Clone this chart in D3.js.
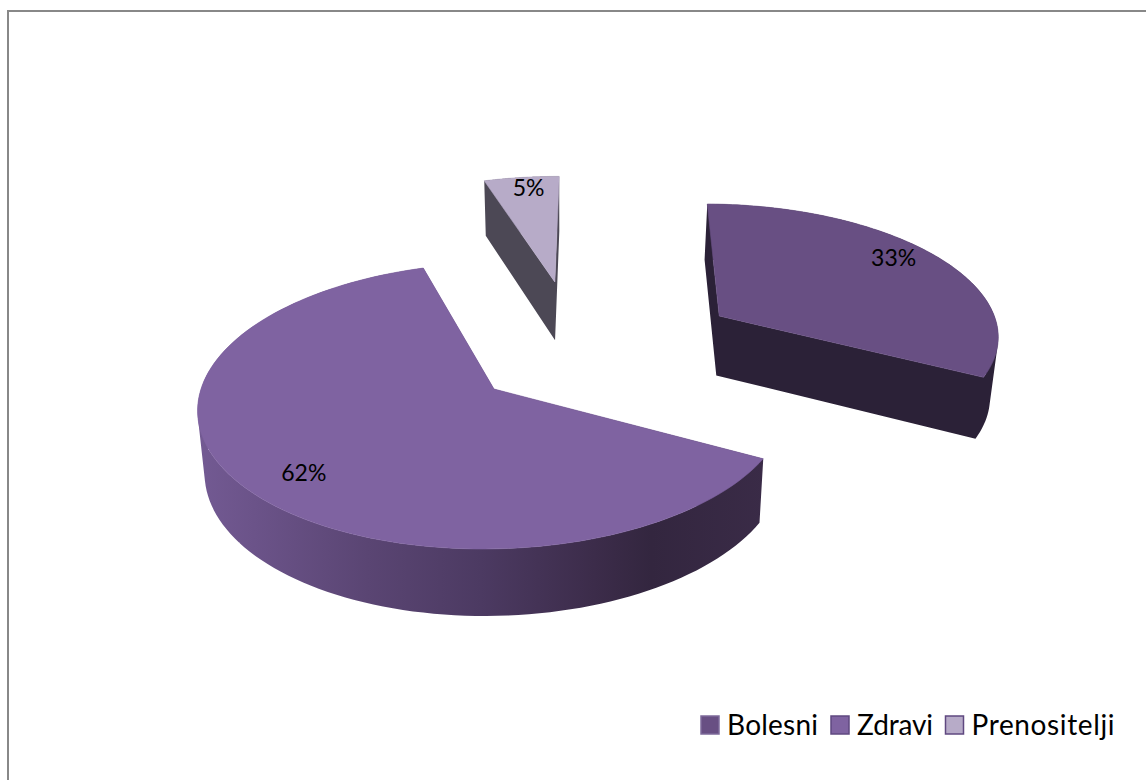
<!DOCTYPE html>
<html><head><meta charset="utf-8">
<script src="https://cdn.jsdelivr.net/npm/d3@7"></script>
<style>html,body{margin:0;padding:0;background:#fff;overflow:hidden}svg{display:block}text{font-family:Lato,"Noto Sans",sans-serif;fill:#000}</style>
</head><body><svg id="c" width="1146" height="780"></svg>
<script>
const categories = ["Bolesni", "Zdravi", "Prenositelji"];
const values = [32.6, 62.4, 5.0];
const topColors = ["#684f83", "#7f63a1", "#b7abc8"];
const wallColors = ["#2b2137", "url(#zdraviWall)", "#4c4855"];
const legendBorders = ["#7d6a9a", "#5f4880", "#5f4880"];
const legendTextWidths = [91, 76, 143];
// exploded offset of every slice on the pie plane, in pie radii
const offsetX = [0.80, 0, 0.200];
const offsetY = [-0.551, 0, -0.8327];
const labelRadius = [0.85, 0.808, 0.885];
const labelShiftDeg = [-4.2, -3.5, 1.0];

const svg = d3.select("#c");
const rot = 0.5 * Math.PI / 180;
const arcs = d3.pie().sort(null).value(d => d).startAngle(rot).endAngle(2 * Math.PI + rot)(values);

// perspective of the pie plane
const P = {cx: 494, cy: 389, a: 293, b: -9.9, d: 141.1, k: 0.118};
function project(x, y) {
  const w = 1 - P.k * y;
  return [P.cx + (P.a * x + P.b * y) / w, P.cy + P.d * y / w];
}
function drop(p) {
  return [p[0] - (p[0] - 565) * 0.019, p[1] + 55 + 0.0326 * (p[1] - 181)];
}
function rim(i, ang, r = 1) {
  return project(offsetX[i] + r * Math.sin(ang), offsetY[i] - r * Math.cos(ang));
}
const line = d3.line();
const defs = svg.append("defs");
const grad = defs.append("linearGradient").attr("id", "zdraviWall")
  .attr("gradientUnits", "userSpaceOnUse").attr("x1", 197).attr("x2", 765).attr("y1", 0).attr("y2", 0);
[[0, "#735a93"], [0.1, "#6b5389"], [0.3, "#5a4573"], [0.5, "#4c3a62"], [0.7, "#3c2c4a"], [0.8, "#33263f"], [1, "#3a2b47"]]
  .forEach(s => grad.append("stop").attr("offset", s[0]).attr("stop-color", s[1]));

svg.append("rect").attr("x", 8).attr("y", 11).attr("width", 1200).attr("height", 800)
  .attr("fill", "#fff").attr("stroke", "#888888").attr("stroke-width", 2);

// every quad is wound the same way, so one nonzero-filled path is their seamless union
const wound = pts => d3.polygonArea(pts) < 0 ? pts.slice().reverse() : pts;
const order = [2, 0, 1];
order.forEach(i => {
  const d = arcs[i];
  const n = 120;
  const ang = d3.range(n + 1).map(t => d.startAngle + (d.endAngle - d.startAngle) * t / n);
  const outer = ang.map(a => rim(i, a));
  const apex = rim(i, 0, 0);
  const g = svg.append("g");
  const quads = [
    [outer[0], apex, drop(apex), drop(outer[0])],
    [outer[n], apex, drop(apex), drop(outer[n])],
    ...d3.pairs(outer).map(([p, q]) => [p, q, drop(q), drop(p)])
  ];
  g.append("path").attr("d", quads.map(q => line(wound(q)) + "Z").join(""))
    .attr("fill", wallColors[i]).attr("fill-rule", "nonzero");
  g.append("path").attr("d", line([apex].concat(outer)) + "Z")
    .attr("fill", topColors[i]).attr("stroke", topColors[i]).attr("stroke-width", 0.6);
});

arcs.forEach((d, i) => {
  const mid = (d.startAngle + d.endAngle) / 2 + labelShiftDeg[i] * Math.PI / 180;
  const p = rim(i, mid, labelRadius[i]);
  svg.append("text").attr("x", p[0]).attr("y", p[1]).attr("dy", "0.35em").attr("text-anchor", "middle")
    .style("font-size", "23px").text(d3.format(".0f")(d.value) + "%");
});

const legendX = d3.scaleOrdinal().domain(categories).range([700, 830, 944.5]);
categories.forEach((c, i) => {
  const x = legendX(c);
  svg.append("rect").attr("x", x + 1).attr("y", 716).attr("width", 18).attr("height", 18)
    .attr("fill", topColors[i]).attr("stroke", legendBorders[i]).attr("stroke-width", 1.5);
  svg.append("text").attr("x", x + 27).attr("y", 735).style("font-size", "28px")
    .attr("textLength", legendTextWidths[i]).attr("lengthAdjust", "spacing").text(c);
});
</script></body></html>
